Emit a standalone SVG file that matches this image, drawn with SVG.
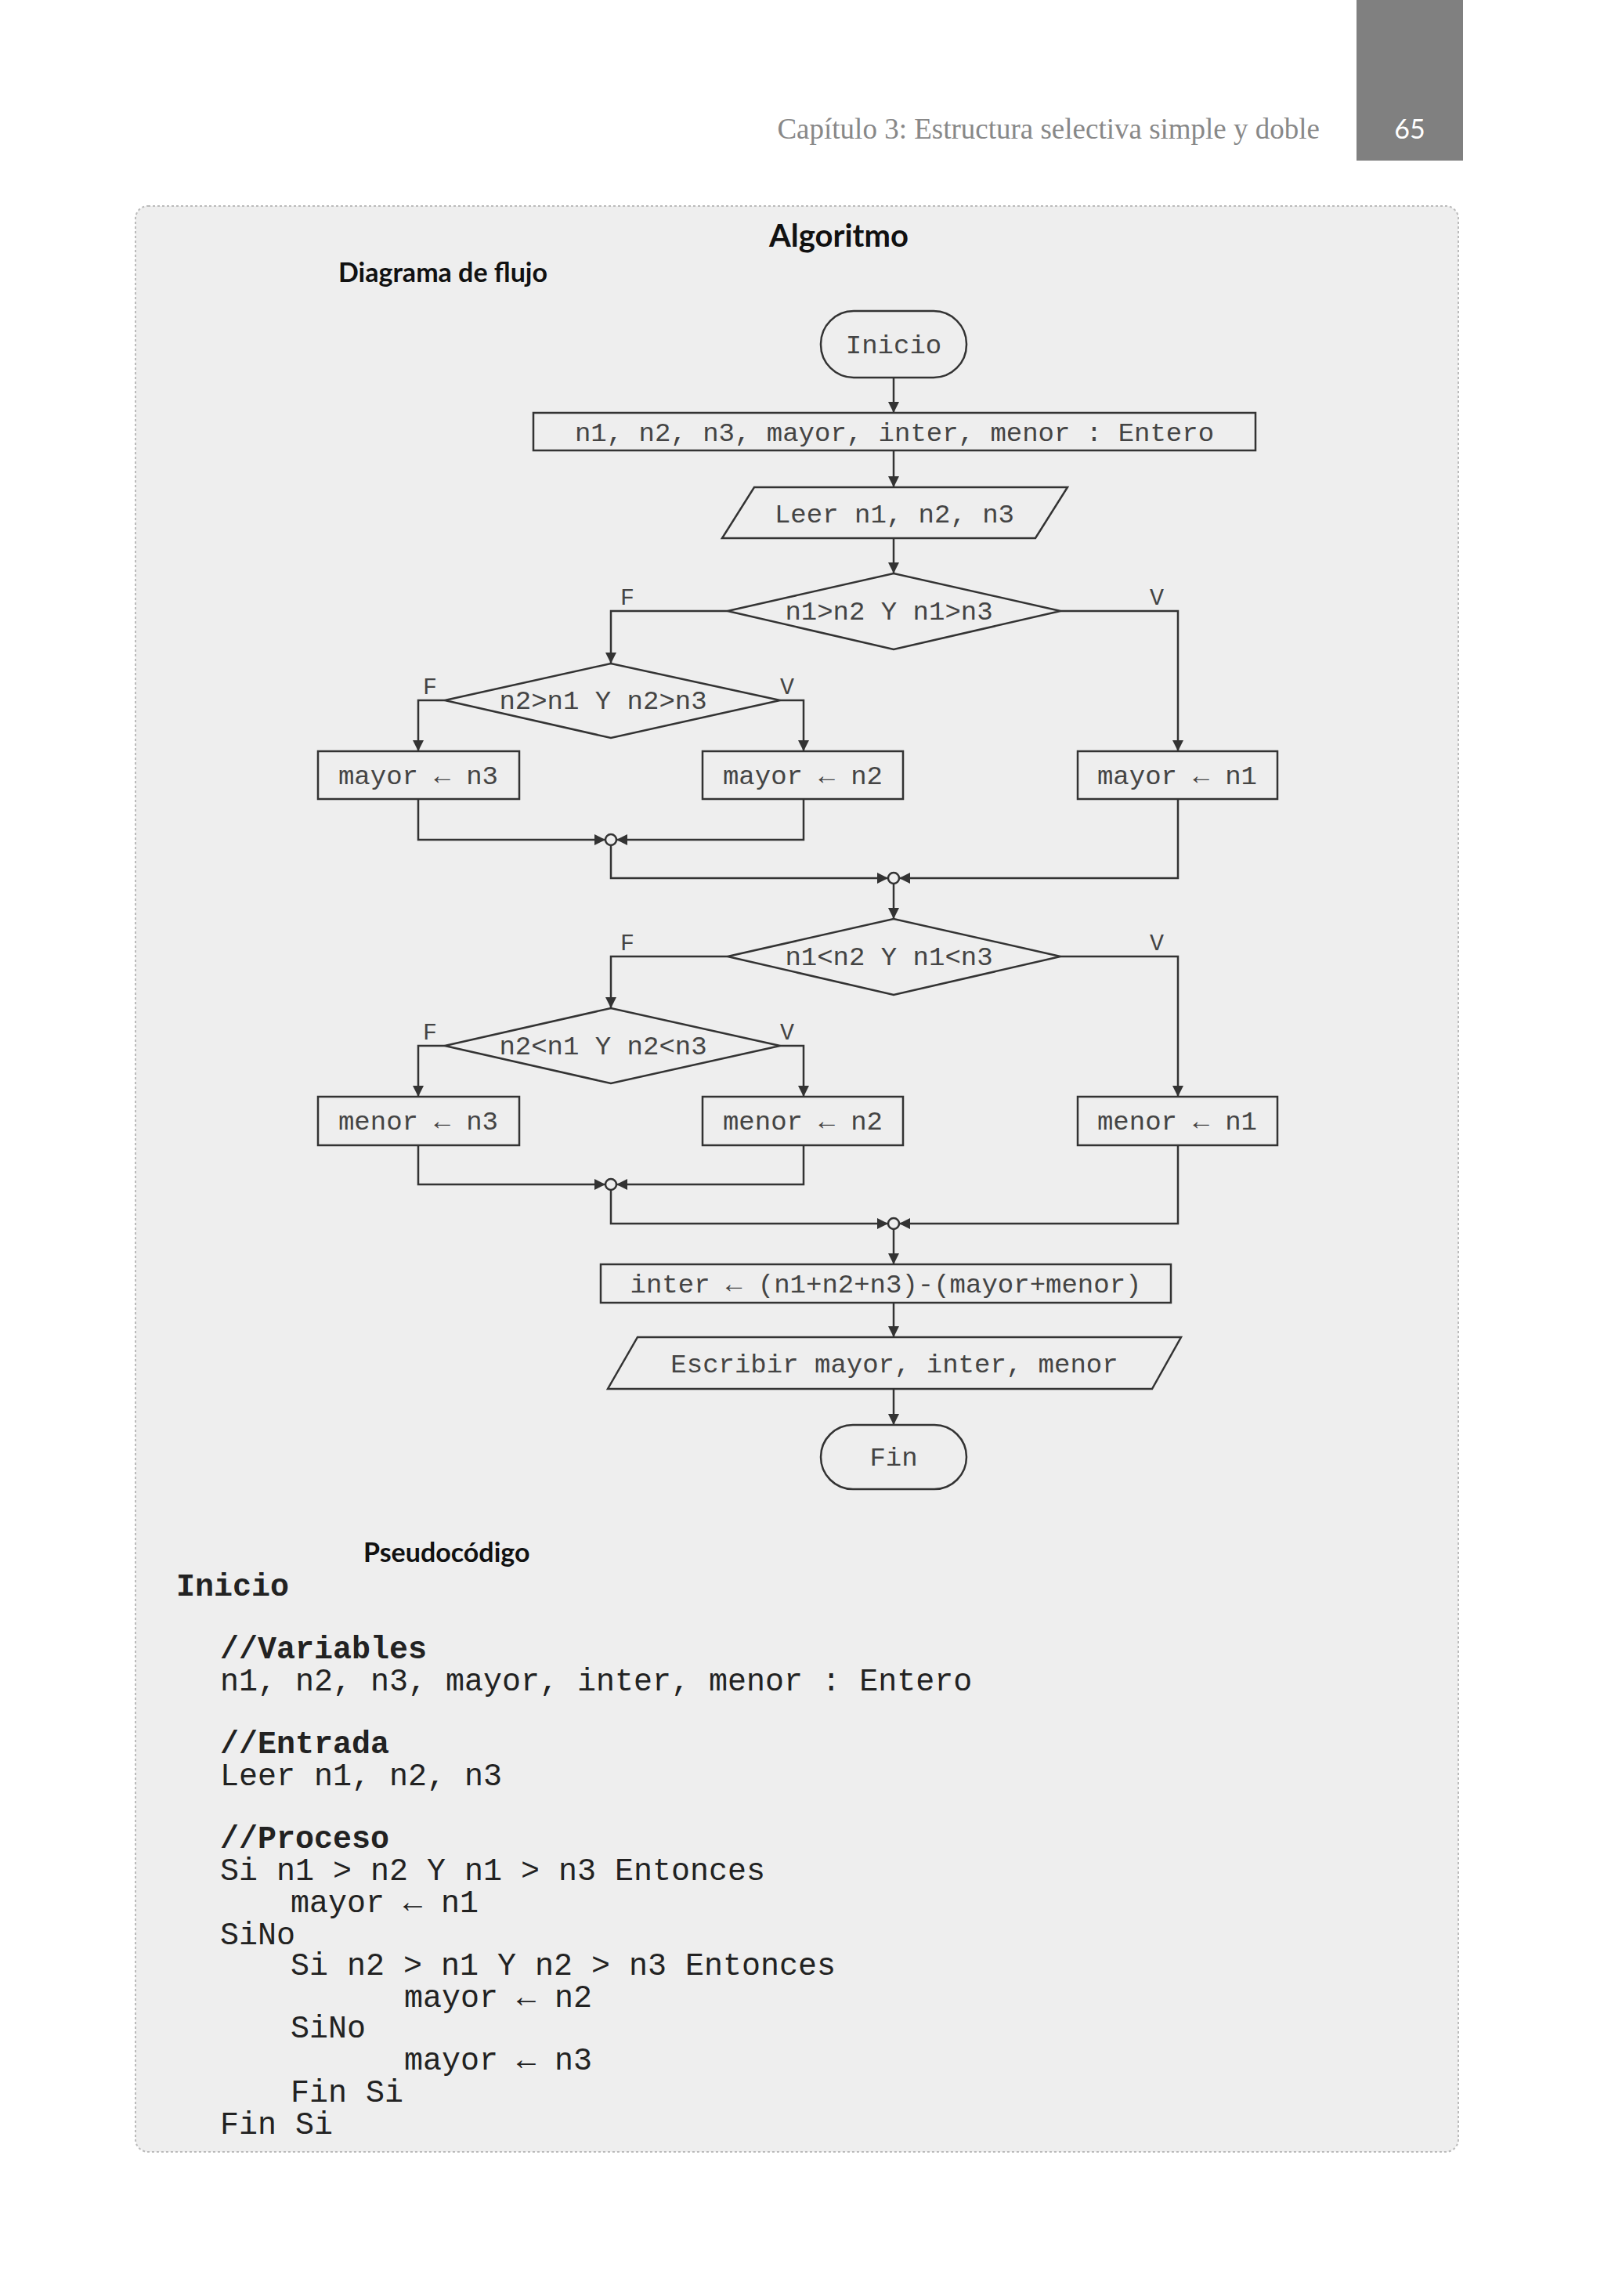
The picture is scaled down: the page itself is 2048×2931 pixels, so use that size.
<svg xmlns="http://www.w3.org/2000/svg" width="2048" height="2931" viewBox="0 0 2048 2931">
<defs>
<style>
.s{fill:none;stroke:#333;stroke-width:2.5}
.b{fill:#eee;stroke:#333;stroke-width:2.5}
.t{font-family:"Liberation Mono",monospace;font-size:34px;fill:#444;text-anchor:middle}
.l{font-family:"Liberation Mono",monospace;font-size:30px;fill:#444;text-anchor:middle}
.p{font-family:"Liberation Mono",monospace;font-size:40px;fill:#222}
.pb{font-family:"Liberation Mono",monospace;font-size:40px;fill:#222;font-weight:bold}
.h{font-family:"Lato","Open Sans",sans-serif;font-weight:bold;fill:#111}
</style>
<marker id="a" viewBox="0 0 10 10" refX="10" refY="5" markerWidth="14" markerHeight="14" markerUnits="userSpaceOnUse" orient="auto"><path d="M0,0L10,5L0,10z" fill="#333"/></marker>
</defs>
<rect width="2048" height="2931" fill="#fff"/>
<rect x="1732" y="0" width="136" height="205" fill="#808080"/>
<text x="1800" y="177" font-family="Lato,sans-serif" font-size="34" fill="#fff" text-anchor="middle">65</text>
<text x="1685" y="177" font-family="Liberation Serif,serif" font-size="37" fill="#888" text-anchor="end">Capítulo 3:  Estructura selectiva simple y doble</text>
<rect x="173" y="263" width="1689" height="2484" rx="16" fill="#eee" stroke="#bbb" stroke-width="2" stroke-dasharray="3,3"/>
<text class="h" x="1071" y="315" font-size="40" text-anchor="middle">Algoritmo</text>
<text class="h" x="432" y="360" font-size="34">Diagrama de flujo</text>
<g id="connectors">
<path class="s" d="M1141,482V527" marker-end="url(#a)"/>
<path class="s" d="M1141,575V622" marker-end="url(#a)"/>
<path class="s" d="M1141,687V732" marker-end="url(#a)"/>
<path class="s" d="M929,780H780V847" marker-end="url(#a)"/>
<path class="s" d="M1354,780H1504V959" marker-end="url(#a)"/>
<path class="s" d="M568,894H534V959" marker-end="url(#a)"/>
<path class="s" d="M996,894H1026V959" marker-end="url(#a)"/>
<path class="s" d="M534,1020V1072H773" marker-end="url(#a)"/>
<path class="s" d="M1026,1020V1072H787" marker-end="url(#a)"/>
<path class="s" d="M780,1079V1121H1134" marker-end="url(#a)"/>
<path class="s" d="M1504,1020V1121H1148" marker-end="url(#a)"/>
<path class="s" d="M1141,1128V1173" marker-end="url(#a)"/>
<path class="s" d="M929,1221H780V1287" marker-end="url(#a)"/>
<path class="s" d="M1354,1221H1504V1400" marker-end="url(#a)"/>
<path class="s" d="M568,1335H534V1400" marker-end="url(#a)"/>
<path class="s" d="M996,1335H1026V1400" marker-end="url(#a)"/>
<path class="s" d="M534,1462V1512H773" marker-end="url(#a)"/>
<path class="s" d="M1026,1462V1512H787" marker-end="url(#a)"/>
<path class="s" d="M780,1519V1562H1134" marker-end="url(#a)"/>
<path class="s" d="M1504,1462V1562H1148" marker-end="url(#a)"/>
<path class="s" d="M1141,1569V1614" marker-end="url(#a)"/>
<path class="s" d="M1141,1663V1707" marker-end="url(#a)"/>
<path class="s" d="M1141,1773V1819" marker-end="url(#a)"/>
<circle class="b" cx="780" cy="1072" r="7"/>
<circle class="b" cx="1141" cy="1121" r="7"/>
<circle class="b" cx="780" cy="1512" r="7"/>
<circle class="b" cx="1141" cy="1562" r="7"/>
<text class="l" x="801" y="772">F</text><text class="l" x="1477" y="772">V</text>
<text class="l" x="549" y="886">F</text><text class="l" x="1005" y="886">V</text>
<text class="l" x="801" y="1213">F</text><text class="l" x="1477" y="1213">V</text>
<text class="l" x="549" y="1327">F</text><text class="l" x="1005" y="1327">V</text>
</g>
<g id="inicio"><rect class="b" x="1048" y="397" width="186" height="85" rx="42"/><text class="t" x="1141" y="451">Inicio</text></g>
<g id="decl"><rect class="b" x="681" y="527" width="922" height="48"/><text class="t" x="1142" y="563">n1, n2, n3, mayor, inter, menor : Entero</text></g>
<g id="leer"><path class="b" d="M963,622H1363L1322,687H922z"/><text class="t" x="1142" y="667">Leer n1, n2, n3</text></g>
<g id="d1"><path class="b" d="M929,780L1141,732L1354,780L1141,829z"/><text class="t" x="1135" y="791">n1&gt;n2 Y n1&gt;n3</text></g>
<g id="d2"><path class="b" d="M568,894L780,847L996,894L780,942z"/><text class="t" x="770" y="905">n2&gt;n1 Y n2&gt;n3</text></g>
<g id="m3"><rect class="b" x="406" y="959" width="257" height="61"/><text class="t" x="534" y="1001">mayor ← n3</text></g>
<g id="m2"><rect class="b" x="897" y="959" width="256" height="61"/><text class="t" x="1025" y="1001">mayor ← n2</text></g>
<g id="m1"><rect class="b" x="1376" y="959" width="255" height="61"/><text class="t" x="1503" y="1001">mayor ← n1</text></g>
<g id="d3"><path class="b" d="M929,1221L1141,1173L1354,1221L1141,1270z"/><text class="t" x="1135" y="1232">n1&lt;n2 Y n1&lt;n3</text></g>
<g id="d4"><path class="b" d="M568,1335L780,1287L996,1335L780,1383z"/><text class="t" x="770" y="1346">n2&lt;n1 Y n2&lt;n3</text></g>
<g id="e3"><rect class="b" x="406" y="1400" width="257" height="62"/><text class="t" x="534" y="1442">menor ← n3</text></g>
<g id="e2"><rect class="b" x="897" y="1400" width="256" height="62"/><text class="t" x="1025" y="1442">menor ← n2</text></g>
<g id="e1"><rect class="b" x="1376" y="1400" width="255" height="62"/><text class="t" x="1503" y="1442">menor ← n1</text></g>
<g id="inter"><rect class="b" x="767" y="1614" width="728" height="49"/><text class="t" x="1131" y="1650">inter ← (n1+n2+n3)-(mayor+menor)</text></g>
<g id="escribir"><path class="b" d="M814,1707H1508L1471,1773H776z"/><text class="t" x="1142" y="1752">Escribir mayor, inter, menor</text></g>
<g id="fin"><rect class="b" x="1048" y="1819" width="186" height="82" rx="41"/><text class="t" x="1141" y="1871">Fin</text></g>
<text class="h" x="464" y="1994" font-size="34">Pseudocódigo</text>
<g id="pseudo">
<text class="pb" x="225" y="2037">Inicio</text>
<text class="pb" x="281" y="2117">//Variables</text>
<text class="p" x="281" y="2158">n1, n2, n3, mayor, inter, menor : Entero</text>
<text class="pb" x="281" y="2238">//Entrada</text>
<text class="p" x="281" y="2279">Leer n1, n2, n3</text>
<text class="pb" x="281" y="2359">//Proceso</text>
<text class="p" x="281" y="2400">Si n1 &gt; n2 Y n1 &gt; n3 Entonces</text>
<text class="p" x="371" y="2441">mayor ← n1</text>
<text class="p" x="281" y="2482">SiNo</text>
<text class="p" x="371" y="2521">Si n2 &gt; n1 Y n2 &gt; n3 Entonces</text>
<text class="p" x="516" y="2562">mayor ← n2</text>
<text class="p" x="371" y="2601">SiNo</text>
<text class="p" x="516" y="2642">mayor ← n3</text>
<text class="p" x="371" y="2683">Fin Si</text>
<text class="p" x="281" y="2724">Fin Si</text>
</g>
</svg>
